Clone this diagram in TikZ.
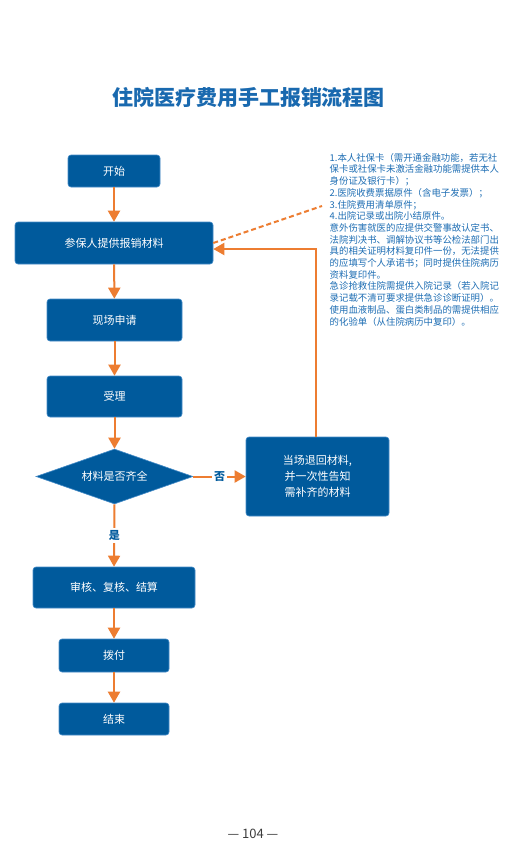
\documentclass[tikz,border=0pt]{standalone}
\usepackage{fontspec}
\setmainfont{Noto Sans CJK SC}
\usetikzlibrary{shapes.geometric,arrows.meta}
\definecolor{boxblue}{RGB}{0,90,156}
\definecolor{boxedge}{RGB}{70,140,200}
\definecolor{arroworange}{RGB}{237,125,49}
\definecolor{noteblue}{RGB}{30,110,180}
\definecolor{titleblue}{RGB}{25,105,175}
\definecolor{pagegray}{RGB}{60,60,60}
\begin{document}
\begin{tikzpicture}[x=1pt,y=-1pt,
  flowbox/.style={draw=boxedge, line width=0.6pt, fill=boxblue, rounded corners=3pt,
    text=white, font=\fontsize{11}{16}\selectfont, inner sep=0pt, align=center},
  flowarrow/.style={draw=arroworange, line width=2pt, -{Triangle[width=12pt,length=11pt]}},
  notedash/.style={draw=arroworange, line width=2pt, dash pattern=on 5pt off 3pt},
  edgelabel/.style={fill=white, text=boxblue, font=\fontsize{11}{13}\selectfont\bfseries, inner sep=2pt},
]
\fill[white] (0,0) rectangle (506,860);
\useasboundingbox (0,0) rectangle (506,860);

\node[text=titleblue, font=\fontsize{21}{24}\selectfont\bfseries] (title) at (248.5,97) {住院医疗费用手工报销流程图};

\node[flowbox, minimum width=92pt, minimum height=32pt] (start) at (114,171) {开始};
\node[flowbox, minimum width=198pt, minimum height=42pt] (apply) at (114,243) {参保人提供报销材料};
\node[flowbox, minimum width=135pt, minimum height=42pt] (onsite) at (114.5,320) {现场申请};
\node[flowbox, minimum width=135pt, minimum height=41pt] (accept) at (114.5,396.5) {受理};
\node[draw=boxedge, line width=0.6pt, fill=boxblue, text=white, font=\fontsize{11}{13}\selectfont,
      shape=diamond, aspect=2.85, inner sep=0pt, minimum width=157pt, minimum height=55pt] (check) at (114.5,476.5) {材料是否齐全};
\node[flowbox, minimum width=143pt, minimum height=79pt] (return) at (317.5,476.5) {当场退回材料,\\并一次性告知\\需补齐的材料};
\node[flowbox, minimum width=162pt, minimum height=41pt] (audit) at (114,587.5) {审核、复核、结算};
\node[flowbox, minimum width=110pt, minimum height=33pt] (pay) at (114,655.5) {拨付};
\node[flowbox, minimum width=110pt, minimum height=32pt] (finish) at (114,719) {结束};

\node[anchor=north west, text=noteblue, align=left, inner sep=0pt,
      font=\fontsize{9.4}{11.7}\selectfont] (notes) at (329.5,153) {%
1.本人社保卡（需开通金融功能，若无社\\
保卡或社保卡未激活金融功能需提供本人\\
身份证及银行卡）；\\
2.医院收费票据原件（含电子发票）；\\
3.住院费用清单原件；\\
4.出院记录或出院小结原件。\\
意外伤害就医的应提供交警事故认定书、\\
法院判决书、调解协议书等公检法部门出\\
具的相关证明材料复印件一份，无法提供\\
的应填写个人承诺书；同时提供住院病历\\
资料复印件。\\
急诊抢救住院需提供入院记录（若入院记\\
录记载不清可要求提供急诊诊断证明）。\\
使用血液制品、蛋白类制品的需提供相应\\
的化验单（从住院病历中复印）。};

\coordinate (noteend) at (322,206);
\coordinate (returnbend) at (316,249);

\node[text=pagegray, font=\fontsize{13}{15}\selectfont] (page) at (253,834) {— 104 —};

\draw[flowarrow] (start) -- (apply);
\draw[flowarrow] (apply) -- (onsite);
\draw[flowarrow] (onsite) -- (accept);
\draw[flowarrow] (accept) -- (check);
\draw[flowarrow] (check.east) -- node[edgelabel] {否} (return.west);
\draw[flowarrow] (check.south) -- node[edgelabel] {是} (audit.north);
\draw[flowarrow] (audit) -- (pay);
\draw[flowarrow] (pay) -- (finish);
\draw[flowarrow] (return.north -| returnbend) -- (returnbend) -- (returnbend -| apply.east);
\draw[notedash] (apply.east) -- (noteend);
\end{tikzpicture}
\end{document}
